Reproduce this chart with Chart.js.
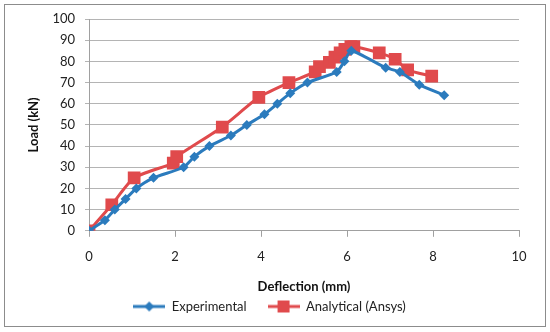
<!DOCTYPE html>
<html>
<head>
<meta charset="utf-8">
<script src="https://cdn.jsdelivr.net/npm/chart.js@4.4.1/dist/chart.umd.min.js"></script>
<style>
  body { margin: 0; background: #fff; }
  #wrap { position: relative; width: 550px; height: 332px; }
  #frame { position: absolute; left: 4px; top: 4px; width: 540px; height: 321px; border: 1px solid #8c8c8c; pointer-events: none; }
</style>
</head>
<body>
<div id="wrap">
  <canvas id="myChart" width="550" height="332"></canvas>
  <div id="frame"></div>
</div>
<script>
// Experimental (deflection mm, load kN)
var expX = [0, 0.37, 0.6, 0.85, 1.1, 1.5, 2.2, 2.45, 2.8, 3.3, 3.67, 4.08, 4.38, 4.68, 5.08, 5.76, 5.94, 6.1, 6.9, 7.23, 7.68, 8.26];
var expY = [0, 5, 10, 15, 20, 25, 30, 35, 40, 45, 50, 55, 60, 65, 70, 75, 80, 85, 77, 75, 69, 64];

// Analytical (Ansys)
var ansX = [0, 0.53, 1.05, 1.96, 2.04, 3.1, 3.95, 4.65, 5.26, 5.36, 5.59, 5.72, 5.84, 5.95, 6.09, 6.16, 6.75, 7.12, 7.41, 7.97];
var ansY = [0, 12.3, 25, 32, 35, 49, 63, 70, 75, 77.5, 79.5, 82, 84, 85.7, 87, 87, 84, 81, 76, 73];

var xTicks = [0, 2, 4, 6, 8, 10];
var seriesNames = ['Experimental', 'Analytical (Ansys)'];

var blue = '#2b7bbd';
var red = '#e04a4c';
var fontFam = 'Lato, "Open Sans", sans-serif';

function toPoints(xs, ys) {
    var pts = [];
    for (var i = 0; i < xs.length; i++) {
        pts.push({ x: xs[i], y: ys[i] });
    }
    return pts;
}

// little legend icon: line with marker in the middle
function legendIcon(color, shape) {
    var c = document.createElement('canvas');
    c.width = 32; c.height = 14;
    var g = c.getContext('2d');
    g.strokeStyle = color;
    g.lineWidth = 3;
    g.beginPath();
    g.moveTo(0, 7); g.lineTo(32, 7);
    g.stroke();
    g.fillStyle = color;
    g.beginPath();
    if (shape == 'diamond') {
        g.moveTo(16, 2); g.lineTo(21, 7); g.lineTo(16, 12); g.lineTo(11, 7);
    } else {
        g.rect(10, 1, 12, 12);
    }
    g.closePath();
    g.fill();
    return c;
}

var icons = [legendIcon(blue, 'diamond'), legendIcon(red, 'square')];

var ctx = document.getElementById('myChart').getContext('2d');
var chart = new Chart(ctx, {
    type: 'scatter',
    data: {
        datasets: [{
                label: seriesNames[0],
                data: toPoints(expX, expY),
                showLine: true,
                borderColor: blue,
                backgroundColor: blue,
                borderWidth: 3,
                pointStyle: 'rectRot',
                pointRadius: 5,
                pointBorderWidth: 0,
                tension: 0.2
            },
            {
                label: seriesNames[1],
                data: toPoints(ansX, ansY),
                showLine: true,
                borderColor: red,
                backgroundColor: red,
                borderWidth: 3,
                pointStyle: 'rect',
                pointRadius: 9,
                pointBorderWidth: 0,
                tension: 0.2
            }
        ]
    },
    options: {
        responsive: false,
        animation: false,
        layout: { padding: { left: 20, right: 31, top: 19, bottom: 9 } },
        plugins: {
            tooltip: { enabled: false },
            legend: {
                position: 'bottom',
                labels: {
                    usePointStyle: true,
                    pointStyleWidth: 32,
                    color: '#222',
                    font: { family: fontFam, size: 13 },
                    padding: 1,
                    boxWidth: 32,
                    generateLabels: function(ch) {
                        return ch.data.datasets.map(function(ds, i) {
                            // trailing spaces give the gap between the two entries
                            var t = i == 0 ? ds.label + '      ' : ds.label;
                            return { text: t, pointStyle: icons[i], datasetIndex: i, fontColor: '#222', lineWidth: 0, strokeStyle: 'transparent', fillStyle: 'transparent' };
                        });
                    }
                }
            }
        },
        scales: {
            x: {
                type: 'linear',
                min: 0,
                max: 10,
                afterBuildTicks: function(s) {
                    s.ticks = xTicks.map(function(v) { return { value: v }; });
                },
                grid: { display: true, drawOnChartArea: false, color: '#a0a0a0', tickLength: 6 },
                border: { color: '#a0a0a0' },
                ticks: { color: '#222', font: { family: fontFam, size: 13 }, padding: 12 },
                title: { display: true, text: 'Deflection (mm)', color: '#111', font: { family: fontFam, size: 13, weight: 'bold' }, padding: { top: 3, bottom: 4 } }
            },
            y: {
                min: 0,
                max: 100,
                ticks: { stepSize: 10, color: '#222', font: { family: fontFam, size: 13 }, padding: 10 },
                grid: { color: '#b4b4b4', tickLength: 4 },
                border: { color: '#a0a0a0' },
                title: { display: true, text: 'Load (kN)', color: '#111', font: { family: fontFam, size: 13, weight: 'bold' }, padding: { top: 6, bottom: 0 } },
                afterFit: function(s) { s.width = 69; }
            }
        }
    }
});
</script>
</body>
</html>
